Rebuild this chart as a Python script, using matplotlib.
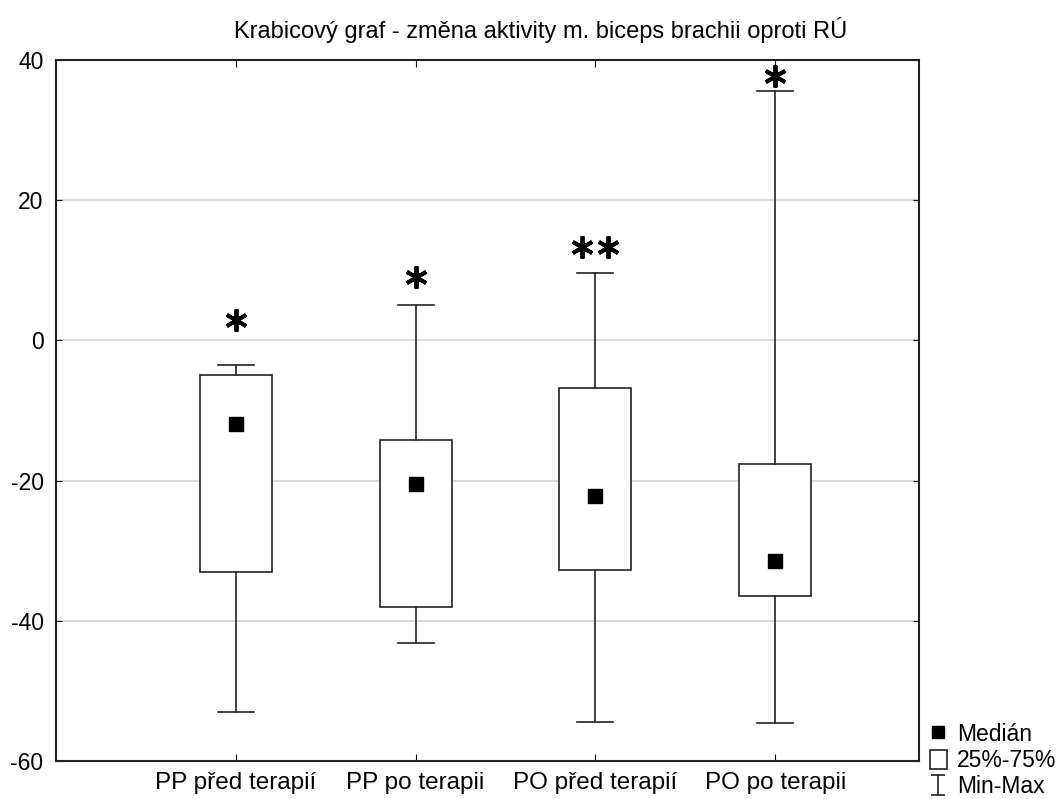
import numpy as np
import matplotlib
matplotlib.use("Agg")
import matplotlib.pyplot as plt
from matplotlib.lines import Line2D
from matplotlib.patches import Patch
from matplotlib.path import Path
from matplotlib import font_manager

# skupiny a souhrnné statistiky (min, Q1, medián, Q3, max)
skupiny = ["PP před terapií", "PP po terapii", "PO před terapií", "PO po terapii"]
minima = [-53.0, -43.1, -54.5, -54.6]
q1 = [-33.1, -38.1, -32.7, -36.5]
mediany = [-11.9, -20.5, -22.2, -31.5]
q3 = [-5.0, -14.2, -6.8, -17.6]
maxima = [-3.5, 5.0, 9.6, 35.6]

# hvězdičky nad krabicemi (počet a výška)
hvezdy_pocet = [1, 1, 2, 1]
hvezdy_y = [2.9, 9.0, 13.3, 37.7]

names = {f.name for f in font_manager.fontManager.ttflist}
base_font = "Liberation Sans" if "Liberation Sans" in names else "DejaVu Sans"
plt.rcParams["font.family"] = [base_font, "DejaVu Sans"]
plt.rcParams["axes.unicode_minus"] = False

fig = plt.figure(figsize=(10.59, 7.99), dpi=100)
W, H = 1059, 799
ax = fig.add_axes([56 / W, 1 - 761 / H, (919 - 56) / W, (761 - 60) / H])

pos = np.arange(1, len(skupiny) + 1)
stats = [dict(med=m, q1=a, q3=b, whislo=lo, whishi=hi, fliers=[])
         for m, a, b, lo, hi in zip(mediany, q1, q3, minima, maxima)]

lw = 1.2
ax.bxp(stats, positions=pos, widths=0.4, capwidths=0.2, patch_artist=True,
       boxprops=dict(facecolor="white", edgecolor="#222222", linewidth=lw),
       whiskerprops=dict(color="#222222", linewidth=lw),
       capprops=dict(color="#222222", linewidth=lw),
       medianprops=dict(linewidth=0), zorder=3)
ax.plot(pos, mediany, ls="none", marker="s", markersize=9.5, color="black", zorder=4)

# hvězdičky
for x, n, y in zip(pos, hvezdy_pocet, hvezdy_y):
    offs = [0.0] if n == 1 else [-0.072, 0.072]
    for o in offs:
        ax.plot(x + o, y, ls="none", marker=(6, 2, 0), markersize=16,
                markeredgewidth=2.8, color="black", zorder=5)

ax.set_xlim(0, 4.8)
ax.set_ylim(-60, 40)
ax.set_yticks([-60, -40, -20, 0, 20, 40])
ax.set_xticks(pos)
ax.set_xticklabels(skupiny, fontsize=17.5)
ax.tick_params(axis="y", labelsize=16.5, direction="in", length=4, right=True, pad=9)
ax.tick_params(axis="x", direction="in", length=5, top=True, pad=8)
for yv in [-40, -20, 0, 20]:
    ax.axhline(yv, color="#d9d9d9", linewidth=1.4, zorder=1)
for s in ax.spines.values():
    s.set_linewidth(1.5)
    s.set_color("#222222")

fig.text(541 / W, 1 - 30 / H,
         "Krabicový graf - změna aktivity m. biceps brachii oproti RÚ",
         ha="center", va="center", fontsize=17)

# legenda vpravo dole
whisk = Path([(-0.7, -1), (0.7, -1), (0, -1), (0, 1), (-0.7, 1), (0.7, 1)],
             [Path.MOVETO, Path.LINETO, Path.MOVETO, Path.LINETO, Path.MOVETO, Path.LINETO])
handles = [
    Line2D([], [], ls="none", marker="s", markersize=9, color="black"),
    Patch(facecolor="white", edgecolor="#222222", linewidth=1.2),
    Line2D([], [], ls="none", marker=whisk, markersize=15, color="#222222",
           markeredgewidth=1.2, markerfacecolor="none"),
]
fig.legend(handles, ["Medián", "25%-75%", "Min-Max"], loc="lower left",
           bbox_to_anchor=(925 / W, -0.005), frameon=False, fontsize=16.5,
           handlelength=0.75, handleheight=0.9, handletextpad=0.45,
           labelspacing=0.15, borderpad=0.2, borderaxespad=0.0)

fig.savefig("out.png", dpi=100)
